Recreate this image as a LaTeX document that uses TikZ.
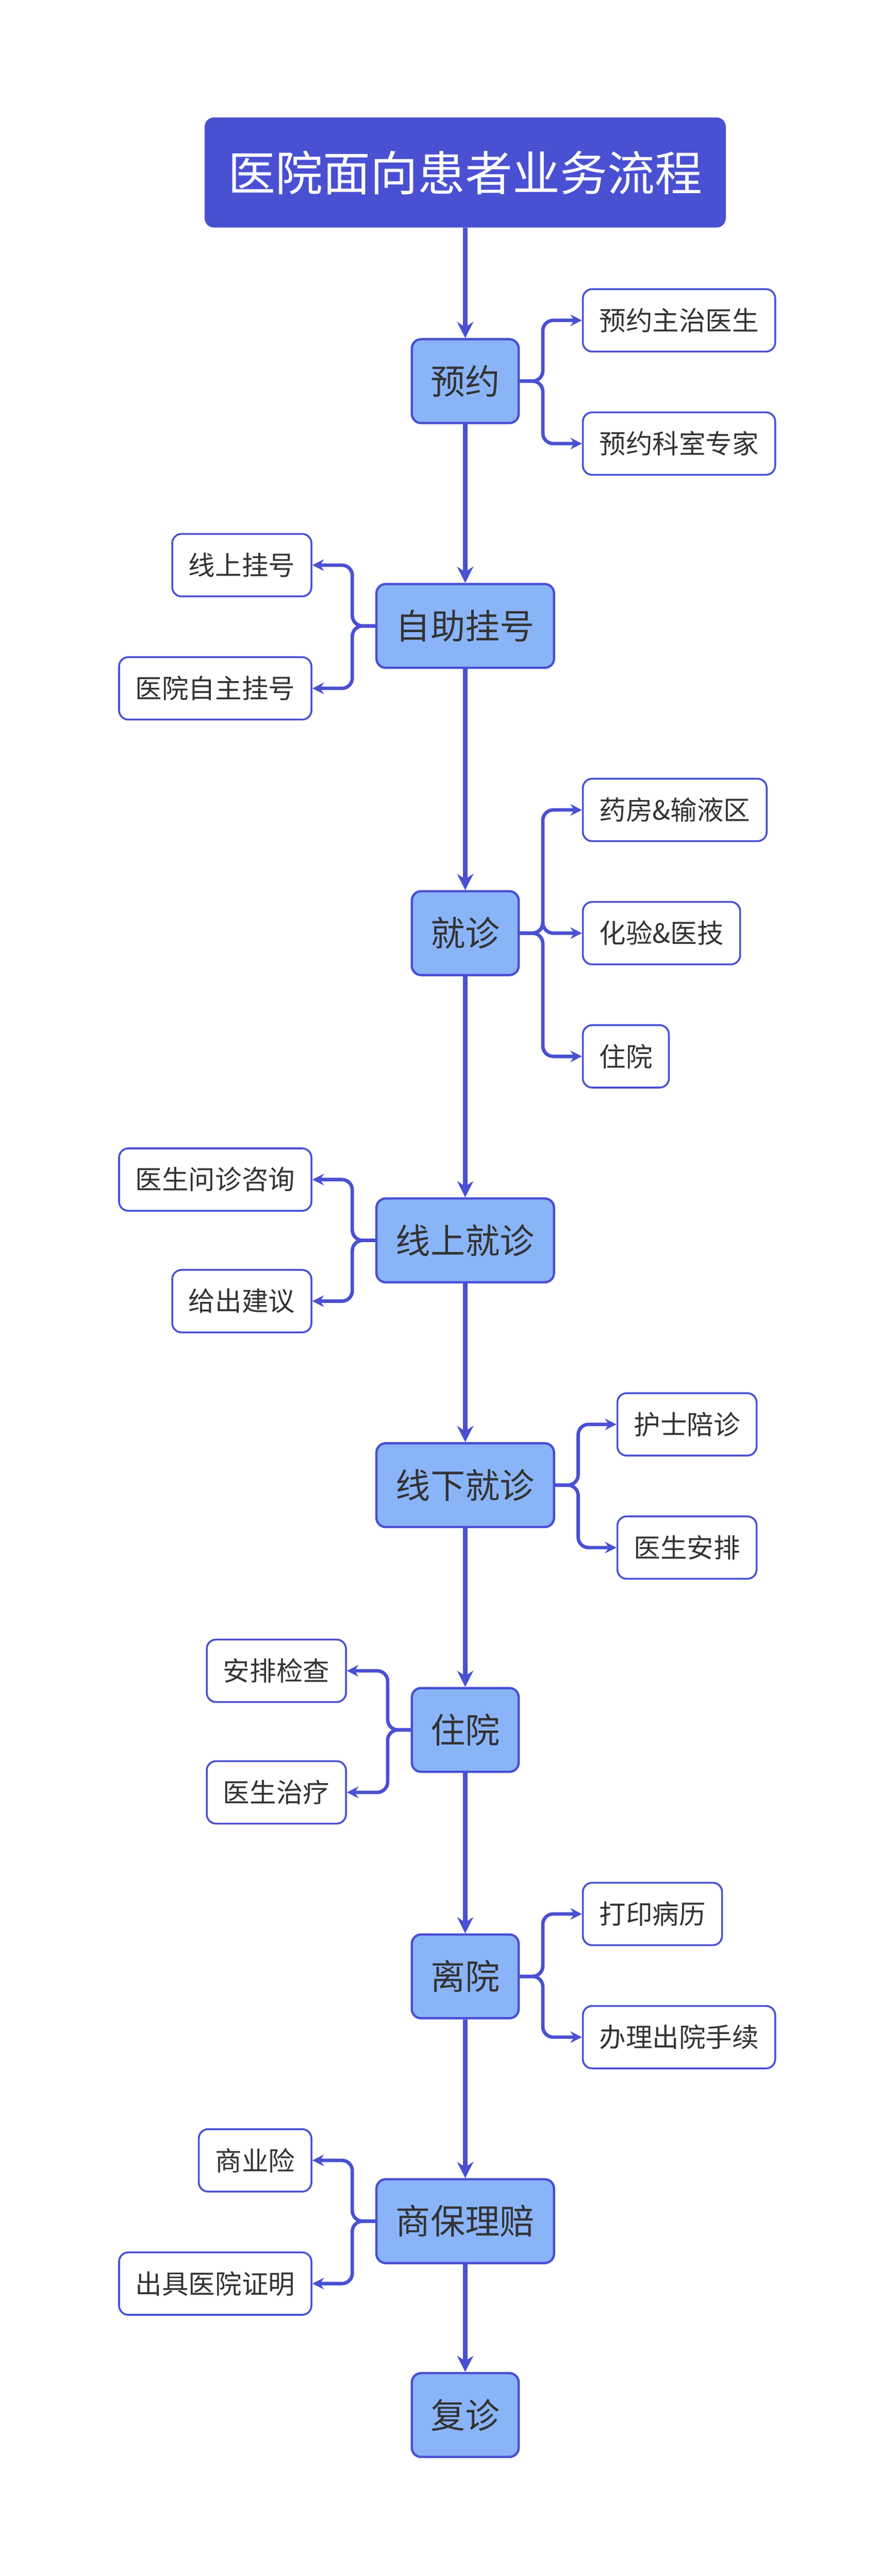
\documentclass[tikz,border=0pt]{standalone}
\usepackage{fontspec}
\setmainfont{Noto Sans CJK SC}
\usetikzlibrary{positioning, arrows.meta}
\definecolor{flowblue}{HTML}{4A50D2}
\definecolor{stepblue}{HTML}{8AB4F8}
\definecolor{textgray}{HTML}{333333}

\begin{document}
\begin{tikzpicture}[x=0.05cm, y=-0.05cm,
        title/.style={rectangle, rounded corners=8pt, fill=flowblue, text=white, minimum width=15.85cm, minimum height=3.35cm, font=\fontsize{41}{48}\selectfont},
        stepbox/.style={rectangle, rounded corners=8pt, draw=flowblue, line width=2pt, fill=stepblue, text=textgray, minimum height=2.55cm, font=\fontsize{30}{36}\selectfont},
        leaf/.style={rectangle, rounded corners=8pt, draw=flowblue, line width=1.6pt, fill=white, text=textgray, minimum height=1.9cm, inner xsep=0.5cm, font=\fontsize{23}{27}\selectfont},
        spine/.style={draw=flowblue, line width=4.2pt, -{Stealth[length=14pt, width=14pt]}},
        branch/.style={draw=flowblue, line width=3pt, rounded corners=9pt, -{Stealth[length=10pt, width=10pt]}}]
      \useasboundingbox (0,0) rectangle (545,1568);
      % Main steps
      \node[title] (top) at (283,105) {医院面向患者业务流程};
      \node[stepbox, minimum width=3.25cm] (yuyue) at (283,232) {预约};
      \node[stepbox, minimum width=5.4cm] (guahao) at (283,381) {自助挂号};
      \node[stepbox, minimum width=3.25cm] (jiuzhen) at (283,568) {就诊};
      \node[stepbox, minimum width=5.4cm] (online) at (283,755) {线上就诊};
      \node[stepbox, minimum width=5.4cm] (offline) at (283,904) {线下就诊};
      \node[stepbox, minimum width=3.25cm] (zhuyuan) at (283,1053) {住院};
      \node[stepbox, minimum width=3.25cm] (liyuan) at (283,1203) {离院};
      \node[stepbox, minimum width=5.4cm] (lipei) at (283,1352) {商保理赔};
      \node[stepbox, minimum width=3.25cm] (fuzhen) at (283,1470) {复诊};

      \draw[spine] (top) -- (yuyue);
      \draw[spine] (yuyue) -- (guahao);
      \draw[spine] (guahao) -- (jiuzhen);
      \draw[spine] (jiuzhen) -- (online);
      \draw[spine] (online) -- (offline);
      \draw[spine] (offline) -- (zhuyuan);
      \draw[spine] (zhuyuan) -- (liyuan);
      \draw[spine] (liyuan) -- (lipei);
      \draw[spine] (lipei) -- (fuzhen);

      % Details
      \node[leaf, anchor=west] (yuyueA) at (354,195) {预约主治医生};
      \node[leaf, anchor=west] (yuyueB) at (354,270) {预约科室专家};
      \node[leaf, anchor=east] (guahaoA) at (190,344) {线上挂号};
      \node[leaf, anchor=east] (guahaoB) at (190,419) {医院自主挂号};
      \node[leaf, anchor=west] (jiuzhenA) at (354,493) {药房\&输液区};
      \node[leaf, anchor=west] (jiuzhenB) at (354,568) {化验\&医技};
      \node[leaf, anchor=west] (jiuzhenC) at (354,643) {住院};
      \node[leaf, anchor=east] (onlineA) at (190,718) {医生问诊咨询};
      \node[leaf, anchor=east] (onlineB) at (190,792) {给出建议};
      \node[leaf, anchor=west] (offlineA) at (375,867) {护士陪诊};
      \node[leaf, anchor=west] (offlineB) at (375,942) {医生安排};
      \node[leaf, anchor=east] (zhuyuanA) at (211,1017) {安排检查};
      \node[leaf, anchor=east] (zhuyuanB) at (211,1091) {医生治疗};
      \node[leaf, anchor=west] (liyuanA) at (354,1165) {打印病历};
      \node[leaf, anchor=west] (liyuanB) at (354,1240) {办理出院手续};
      \node[leaf, anchor=east] (lipeiA) at (190,1315) {商业险};
      \node[leaf, anchor=east] (lipeiB) at (190,1390) {出具医院证明};

      \foreach \p/\c in {yuyue/yuyueA, yuyue/yuyueB, jiuzhen/jiuzhenA, jiuzhen/jiuzhenB, jiuzhen/jiuzhenC, offline/offlineA, offline/offlineB, liyuan/liyuanA, liyuan/liyuanB}
        \draw[branch] (\p.east) -- ++(14,0) |- (\c.west);
      \foreach \p/\c in {guahao/guahaoA, guahao/guahaoB, online/onlineA, online/onlineB, zhuyuan/zhuyuanA, zhuyuan/zhuyuanB, lipei/lipeiA, lipei/lipeiB}
        \draw[branch] (\p.west) -- ++(-14,0) |- (\c.east);
    \end{tikzpicture}
\end{document}
